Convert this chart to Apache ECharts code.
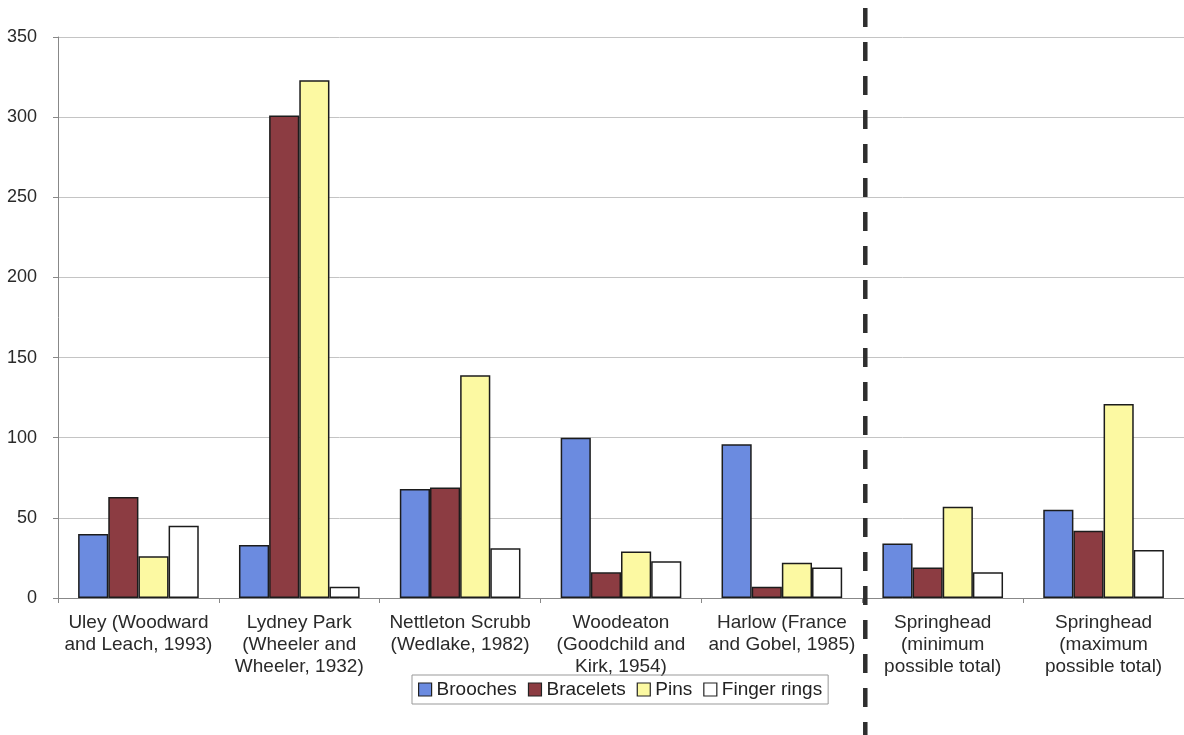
<!DOCTYPE html>
<html>
<head>
<meta charset="utf-8">
<script src="https://cdn.jsdelivr.net/npm/echarts@6/dist/echarts.min.js"></script>
<style>html,body{margin:0;padding:0;background:#fff}#c{width:1184px;height:735px}</style>
</head>
<body>
<div id="c"></div>
<script>
var categories = [
  "Uley (Woodward\nand Leach, 1993)",
  "Lydney Park\n(Wheeler and\nWheeler, 1932)",
  "Nettleton Scrubb\n(Wedlake, 1982)",
  "Woodeaton\n(Goodchild and\nKirk, 1954)",
  "Harlow (France\nand Gobel, 1985)",
  "Springhead\n(minimum\npossible total)",
  "Springhead\n(maximum\npossible total)"
];
var brooches = [40, 33, 68, 100, 96, 34, 55];
var bracelets = [63, 301, 69, 16, 7, 19, 42];
var pins = [26, 323, 139, 29, 22, 57, 121];
var fingerRings = [45, 7, 31, 23, 19, 16, 30];
var seriesNames = ["Brooches", "Bracelets", "Pins", "Finger rings"];
var yTicks = [0, 50, 100, 150, 200, 250, 300, 350];
var dividerAfterIndex = 4;

var colors = ["#6b8be0", "#8c3c42", "#fcf9a2", "#ffffff"];
var font = "'Liberation Sans', Arial, sans-serif";

var chart = echarts.init(document.getElementById('c'));
function mk(name, data, color) {
  return {
    name: name, type: 'bar', data: data,
    barGap: '0%', barCategoryGap: '25%',
    itemStyle: { color: color, borderColor: '#1c1c1c', borderWidth: 1.5 },
    emphasis: { disabled: true }
  };
}
chart.setOption({
  animation: false,
  backgroundColor: '#fff',
  textStyle: { fontFamily: font },
  grid: { left: 58, right: 0, top: 37, bottom: 137, containLabel: false },
  legend: {
    data: seriesNames,
    left: 412, top: 675,
    itemWidth: 13, itemHeight: 13, itemGap: 11,
    padding: [5, 6],
    borderColor: '#999', borderWidth: 1,
    textStyle: { fontSize: 19, color: '#222', fontFamily: font },
    icon: 'rect',
    itemStyle: { borderColor: '#222', borderWidth: 1.2 }
  },
  xAxis: {
    type: 'category', data: categories,
    axisLine: { lineStyle: { color: '#888' } },
    axisTick: { show: true, length: 5, lineStyle: { color: '#888' } },
    axisLabel: { interval: 0, fontSize: 19, lineHeight: 22, color: '#2a2a2a', margin: 14, fontFamily: font }
  },
  yAxis: {
    type: 'value', min: yTicks[0], max: yTicks[yTicks.length - 1], interval: 50,
    axisLine: { show: true, lineStyle: { color: '#888' } },
    axisTick: { show: true, length: 5, lineStyle: { color: '#888' } },
    splitLine: { lineStyle: { color: '#c4c4c4' } },
    axisLabel: { fontSize: 18, color: '#2a2a2a', margin: 21, fontFamily: font }
  },
  series: [
    mk(seriesNames[0], brooches, colors[0]),
    mk(seriesNames[1], bracelets, colors[1]),
    mk(seriesNames[2], pins, colors[2]),
    mk(seriesNames[3], fingerRings, colors[3])
  ]
});
var xa = chart.convertToPixel({ xAxisIndex: 0 }, categories[dividerAfterIndex]);
var xb = chart.convertToPixel({ xAxisIndex: 0 }, categories[dividerAfterIndex + 1]);
var xd = (xa + xb) / 2 + 3;
chart.setOption({
  graphic: [{
    type: 'line', z: 100,
    shape: { x1: xd, y1: 8, x2: xd, y2: 735 },
    style: { stroke: '#2e2e2e', lineWidth: 4.5, lineDash: [19, 15] }
  }]
});
</script>
</body>
</html>
